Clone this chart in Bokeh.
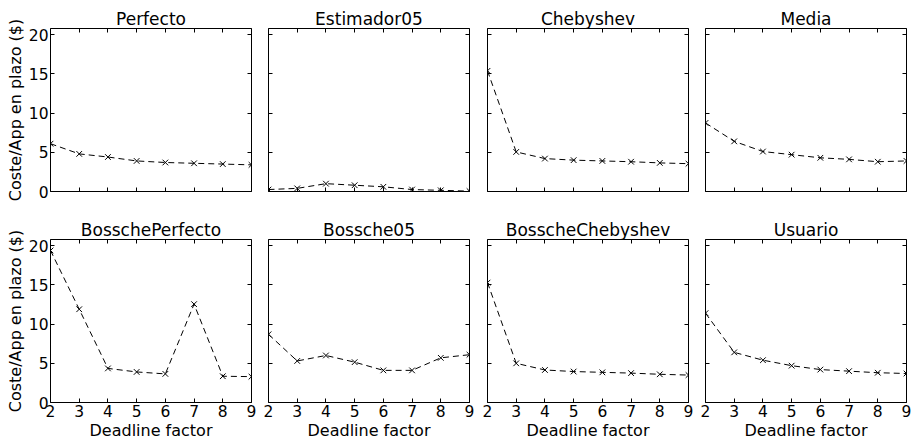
from bokeh.plotting import figure
from bokeh.models import Range1d, LinearAxis, FixedTicker, CustomLabelingPolicy
from bokeh.layouts import row, column
from bokeh.embed import file_html
from bokeh.resources import INLINE

deadline = [2, 3, 4, 5, 6, 7, 8, 9]
titles = ["Perfecto", "Estimador05", "Chebyshev", "Media",
          "BosschePerfecto", "Bossche05", "BosscheChebyshev", "Usuario"]
perfecto = [6.1, 4.8, 4.4, 3.9, 3.7, 3.6, 3.5, 3.4]
estimador05 = [0.25, 0.4, 1.0, 0.8, 0.6, 0.25, 0.15, 0.05]
chebyshev = [15.4, 5.05, 4.2, 4.0, 3.9, 3.8, 3.65, 3.55]
media = [8.75, 6.4, 5.1, 4.7, 4.3, 4.1, 3.8, 3.9]
bossche_perfecto = [19.4, 11.9, 4.35, 3.9, 3.65, 12.55, 3.35, 3.3]
bossche05 = [8.7, 5.3, 6.0, 5.15, 4.1, 4.1, 5.7, 6.1]
bossche_chebyshev = [15.3, 5.0, 4.15, 3.95, 3.85, 3.75, 3.6, 3.5]
usuario = [11.4, 6.4, 5.4, 4.7, 4.2, 4.0, 3.8, 3.7]
series = [perfecto, estimador05, chebyshev, media,
          bossche_perfecto, bossche05, bossche_chebyshev, usuario]
y_ticks = [0, 5, 10, 15, 20]
x_ticks = [2, 3, 4, 5, 6, 7, 8, 9]
y_label = "Coste/App en plazo ($)"
x_label = "Deadline factor"

FONT = "DejaVu Sans"

HIDE_ALL = """
const ids = Array.from(indices)
for (const i of ids) indices.unset(i)
return indices
"""


def style_axis(ax, ticks, show_labels):
    ax.ticker = FixedTicker(ticks=ticks)
    ax.major_tick_in = 4
    ax.major_tick_out = 0
    ax.minor_tick_in = 0
    ax.minor_tick_out = 0
    ax.axis_line_color = None
    ax.major_tick_line_color = "black"
    ax.major_tick_line_width = 1
    ax.major_label_text_font = FONT
    ax.major_label_text_color = "black"
    ax.axis_label_text_font = FONT
    ax.axis_label_text_font_style = "normal"
    ax.axis_label_text_font_size = "16px"
    ax.axis_label_text_color = "black"
    ax.axis_label_standoff = 1
    if show_labels:
        ax.major_label_standoff = 2
        ax.major_label_text_font_size = "15.5px"
    else:
        ax.major_label_standoff = 0
        ax.major_label_text_font_size = "0px"
        ax.major_label_policy = CustomLabelingPolicy(code=HIDE_ALL)


left_borders = [50, 9, 9, 8]
right_borders = [8, 9, 9, 5]
top_borders = [28, 20]
bottom_borders = [26, 38]

figs = []
for i, (title, vals) in enumerate(zip(titles, series)):
    r, c = divmod(i, 4)
    p = figure(
        frame_width=201, frame_height=163,
        min_border_left=left_borders[c],
        min_border_right=right_borders[c],
        min_border_top=top_borders[r],
        min_border_bottom=bottom_borders[r],
        x_range=Range1d(2, 9), y_range=Range1d(0, 20.8),
        toolbar_location=None, tools="", output_backend="svg",
        background_fill_color="white", border_fill_color="white",
    )
    p.grid.visible = False
    p.outline_line_color = "black"
    p.outline_line_width = 1
    p.outline_line_alpha = 1
    p.title.text = title
    p.title.text_font = FONT
    p.title.text_font_size = "17px"
    p.title.text_font_style = "normal"
    p.title.text_color = "black"
    p.title.align = "center"
    p.title.standoff = 0

    style_axis(p.xaxis[0], x_ticks, r == 1)
    style_axis(p.yaxis[0], y_ticks, c == 0)
    if r == 1:
        p.xaxis[0].axis_label = x_label
    if c == 0:
        p.yaxis[0].axis_label = y_label

    top = LinearAxis()
    style_axis(top, x_ticks, False)
    p.add_layout(top, "above")
    right = LinearAxis()
    style_axis(right, y_ticks, False)
    p.add_layout(right, "right")

    p.line(deadline, vals, line_color="black", line_width=1, line_dash="6 4")
    p.scatter(deadline, vals, marker="x", size=8, line_color="black", line_width=1)
    figs.append(p)

layout = column(row(*figs[:4]), row(*figs[4:]))

open("out.html", "w").write(file_html(layout, INLINE))
